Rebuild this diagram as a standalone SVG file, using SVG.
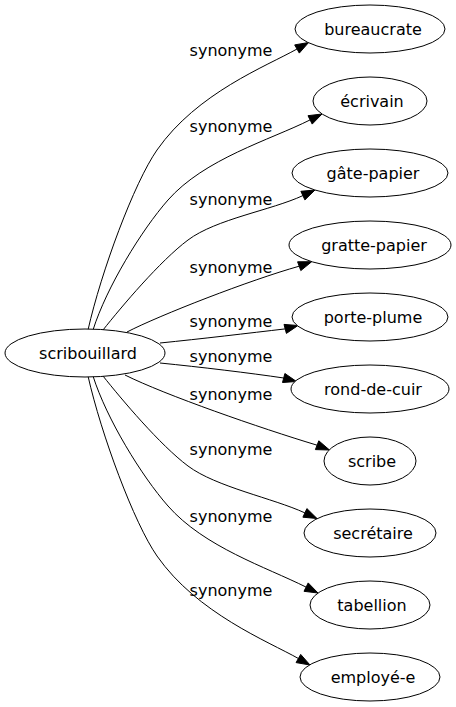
<svg xmlns="http://www.w3.org/2000/svg" width="456" height="707" viewBox="0 0 456 707">
<style>
.node ellipse{fill:#ffffff;stroke:#000000;stroke-width:1}
.node text{font-family:"DejaVu Sans","Liberation Sans",sans-serif;font-size:16px;fill:#000000;text-anchor:middle}
.edge path{fill:none;stroke:#000000;stroke-width:1}
.edge polygon{fill:#000000;stroke:#000000;stroke-width:1}
.edge text{font-family:"DejaVu Sans","Liberation Sans",sans-serif;font-size:16px;fill:#000000;text-anchor:middle}
</style>
<rect x="0" y="0" width="456" height="707" fill="#ffffff"/>
<g id="connectors">
<g class="edge" id="e1">
<path d="M88,330 C101.2,271.5 134.1,182.8 157,150 C197.1,92.7 266.5,66.2 297,49"/>
<polygon points="308.6,42.5 299.3,53.1 294.7,44.9"/>
<text x="231" y="55.5">synonyme</text>
</g>
<g class="edge" id="e2">
<path d="M93,330 C106.5,287.3 141.6,230 168,200 C204.3,158.8 269.9,140 310.1,119.9"/>
<polygon points="322,114 312.2,124.1 308,115.7"/>
<text x="231" y="131.5">synonyme</text>
</g>
<g class="edge" id="e3">
<path d="M103,330 C121.6,306.6 160,261 188,240 C216,219 271.1,210.3 302.9,195.6"/>
<polygon points="315,190 304.9,199.9 300.9,191.3"/>
<text x="231" y="205">synonyme</text>
</g>
<g class="edge" id="e4">
<path d="M127,332 C160,315 250,280 299.2,266.2"/>
<polygon points="311.7,261.7 300.8,270.6 297.6,261.8"/>
<text x="231" y="273">synonyme</text>
</g>
<g class="edge" id="e5">
<path d="M160,343 C200,339 250,333 285.2,328.9"/>
<polygon points="298,325.5 286.4,333.4 284,324.4"/>
<text x="231" y="326.5">synonyme</text>
</g>
<g class="edge" id="e6">
<path d="M160,363 C200,367 250,373 283.7,378"/>
<polygon points="296.5,381.5 282.5,382.5 284.9,373.5"/>
<text x="231" y="361.5">synonyme</text>
</g>
<g class="edge" id="e7">
<path d="M125,375 C165,395 260,428 317.1,445.2"/>
<polygon points="329.5,450 315.4,449.6 318.8,440.8"/>
<text x="231" y="399.5">synonyme</text>
</g>
<g class="edge" id="e8">
<path d="M103,376 C121.6,399.4 160,445 188,466 C216,487 273.1,498.2 304.9,512.9"/>
<polygon points="317,518.5 302.9,517.2 306.9,508.6"/>
<text x="231" y="455">synonyme</text>
</g>
<g class="edge" id="e9">
<path d="M93,376 C106.5,418.7 141.6,476 168,506 C204.3,547.2 265.9,567 306.1,587.1"/>
<polygon points="318,593 304,591.3 308.2,582.9"/>
<text x="231" y="522">synonyme</text>
</g>
<g class="edge" id="e10">
<path d="M88,376 C101.2,434.5 134.1,523.2 157,556 C197.1,613.3 267.9,641.3 298.4,658.5"/>
<polygon points="310,665 296.1,662.6 300.7,654.4"/>
<text x="231" y="595.5">synonyme</text>
</g>
</g>
<g class="node" id="scribouillard">
<ellipse cx="85" cy="353" rx="80" ry="24"/>
<text x="88" y="358.5">scribouillard</text>
</g>
<g class="node" id="bureaucrate">
<ellipse cx="370" cy="29" rx="75" ry="24"/>
<text x="373" y="34.5">bureaucrate</text>
</g>
<g class="node" id="ecrivain">
<ellipse cx="370" cy="101" rx="57" ry="24"/>
<text x="372" y="106.5">écrivain</text>
</g>
<g class="node" id="gate-papier">
<ellipse cx="370" cy="173" rx="78" ry="24"/>
<text x="373" y="178.5">gâte-papier</text>
</g>
<g class="node" id="gratte-papier">
<ellipse cx="370" cy="245" rx="81" ry="24"/>
<text x="374" y="250.5">gratte-papier</text>
</g>
<g class="node" id="porte-plume">
<ellipse cx="370" cy="317" rx="78" ry="24"/>
<text x="373" y="322.5">porte-plume</text>
</g>
<g class="node" id="rond-de-cuir">
<ellipse cx="370" cy="389" rx="79" ry="24"/>
<text x="373" y="394.5">rond-de-cuir</text>
</g>
<g class="node" id="scribe">
<ellipse cx="370" cy="461" rx="46" ry="24"/>
<text x="372" y="466.5">scribe</text>
</g>
<g class="node" id="secretaire">
<ellipse cx="370" cy="533" rx="66" ry="24"/>
<text x="373" y="538.5">secrétaire</text>
</g>
<g class="node" id="tabellion">
<ellipse cx="370" cy="605" rx="60" ry="24"/>
<text x="372" y="610.5">tabellion</text>
</g>
<g class="node" id="employe-e">
<ellipse cx="370" cy="677" rx="70" ry="24"/>
<text x="373" y="682.5">employé-e</text>
</g>
</svg>
